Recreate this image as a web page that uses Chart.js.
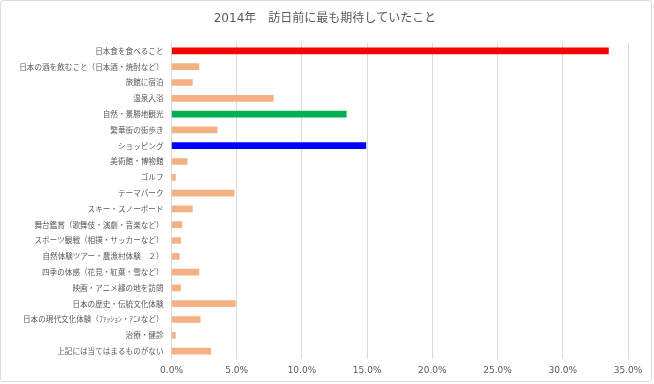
<!DOCTYPE html>
<html>
<head>
<meta charset="utf-8">
<script src="https://cdn.jsdelivr.net/npm/chart.js@4"></script>
<style>
  html, body { margin: 0; padding: 0; background: #fff; }
  canvas { display: block; }
</style>
</head>
<body>
<canvas id="barChart" width="654" height="384"></canvas>
<script>
const categories = [
    '日本食を食べること',
    '日本の酒を飲むこと（日本酒・焼酎など）',
    '旅館に宿泊',
    '温泉入浴',
    '自然・景勝地観光',
    '繁華街の街歩き',
    'ショッピング',
    '美術館・博物館',
    'ゴルフ',
    'テーマパーク',
    'スキー・スノーボード',
    '舞台鑑賞（歌舞伎・演劇・音楽など）',
    'スポーツ観戦（相撲・サッカーなど）',
    '自然体験ツアー・農漁村体験　２）',
    '四季の体感（花見・紅葉・雪など）',
    '映画・アニメ縁の地を訪問',
    '日本の歴史・伝統文化体験',
    '日本の現代文化体験（ﾌｧｯｼｮﾝ・ｱﾆﾒなど）',
    '治療・健診',
    '上記には当てはまるものがない'
];

// percent of respondents
const shares = [
    33.5, 2.1, 1.6, 7.8, 13.4, 3.5, 14.9, 1.2, 0.3, 4.8,
    1.6, 0.8, 0.7, 0.6, 2.1, 0.7, 4.9, 2.2, 0.3, 3.0
];

const xTicks = [0, 5, 10, 15, 20, 25, 30, 35];

const chartTitle = '2014年　訪日前に最も期待していたこと';

document.addEventListener("DOMContentLoaded", () => {

    const baseColor = '#F4B183';
    const highlight = { 0: '#FF0000', 4: '#00B050', 6: '#0000FF' };
    const barColors = categories.map((c, i) => highlight[i] || baseColor);

    const textColor = '#595959';
    const latin = '"DejaVu Sans", "Noto Sans CJK JP", sans-serif';

    // white background, light frame and the centred title
    const frame = {
        id: 'frame',
        beforeDraw(chart) {
            const ctx = chart.ctx;
            ctx.save();
            ctx.fillStyle = '#ffffff';
            ctx.fillRect(0, 0, chart.width, chart.height);
            ctx.strokeStyle = '#D9D9D9';
            ctx.lineWidth = 1;
            ctx.beginPath();
            ctx.roundRect(0.5, 0.5, 651, 381, 3);
            ctx.stroke();

            ctx.fillStyle = textColor;
            ctx.font = '12px ' + latin;
            ctx.textAlign = 'center';
            ctx.textBaseline = 'middle';
            ctx.fillText(chartTitle, 325, 19);
            ctx.restore();
        }
    };

    const bar = document.getElementById('barChart').getContext('2d');
    window.barChart = new Chart(bar, {
        type: 'bar',
        data: {
            labels: categories,
            datasets: [{
                data: shares,
                backgroundColor: barColors,
                borderWidth: 0,
                barThickness: 6
            }]
        },
        options: {
            indexAxis: 'y',
            responsive: false,
            animation: false,
            layout: {
                padding: { left: 0, right: 26, top: 43, bottom: 0 }
            },
            plugins: {
                legend: { display: false },
                tooltip: { enabled: false },
                title: { display: false }
            },
            scales: {
                x: {
                    min: 0,
                    max: 35,
                    afterBuildTicks(scale) {
                        scale.ticks = xTicks.map(v => ({ value: v }));
                    },
                    afterFit(scale) {
                        scale.height = 25;
                    },
                    border: { display: false },
                    grid: {
                        color: '#D9D9D9',
                        drawTicks: false
                    },
                    ticks: {
                        padding: 6,
                        color: textColor,
                        maxRotation: 0,
                        font: { family: latin, size: 9 },
                        callback: v => v.toFixed(1) + '%'
                    }
                },
                y: {
                    afterFit(scale) {
                        scale.width = 171.5;
                    },
                    border: { display: false },
                    grid: { display: false, drawTicks: false },
                    ticks: {
                        padding: 8,
                        autoSkip: false,
                        color: textColor,
                        font: { family: '"Noto Sans CJK JP", sans-serif', size: 7.6 }
                    }
                }
            }
        },
        plugins: [frame]
    });
});
</script>
</body>
</html>
